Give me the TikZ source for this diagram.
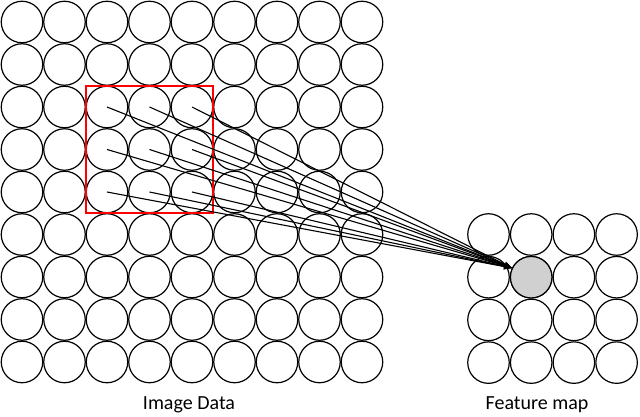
\documentclass[tikz,border=0pt]{standalone}
\usepackage{fontspec}
\setmainfont{Carlito}
\usetikzlibrary{arrows.meta}
\definecolor{cellgray}{HTML}{D0D0D0}
\begin{document}
\begin{tikzpicture}[x=1pt,y=-1pt,
  cell/.style={circle,draw=black,line width=1.2pt,minimum size=41.5pt,inner sep=0pt},
  redbox/.style={draw=red,line width=1.6pt,minimum size=127pt,inner sep=0pt},
  conn/.style={draw=black,line width=1.1pt,-{Stealth[length=8pt,width=6pt]}},
  lbl/.style={font=\fontsize{20}{24}\selectfont,inner sep=0pt}]
\useasboundingbox (0,0) rectangle (640,417);
\foreach \i in {0,...,8} \foreach \j in {0,...,8}
  \node[cell] (a-\i-\j) at ({22+42.5*\i},{22+42.5*\j}) {};
\foreach \i in {0,...,3} \foreach \j in {0,...,3}
  \node[cell] (f-\i-\j) at ({488.5+42.7*\i},{234.5+42.7*\j}) {};
\node[cell,fill=cellgray] (f-1-1) at ({488.5+42.7},{234.5+42.7}) {};
\node[redbox] (win) at (149.5,149.5) {};
\coordinate (tip) at (512,268);
\foreach \i in {2,3,4} \foreach \j in {2,3,4}
  \draw[conn] (a-\i-\j.center) -- (tip);
\node[lbl] (l1) at (189,405) {Image Data};
\node[lbl] (l2) at (537,405) {Feature map};
\end{tikzpicture}
\end{document}
